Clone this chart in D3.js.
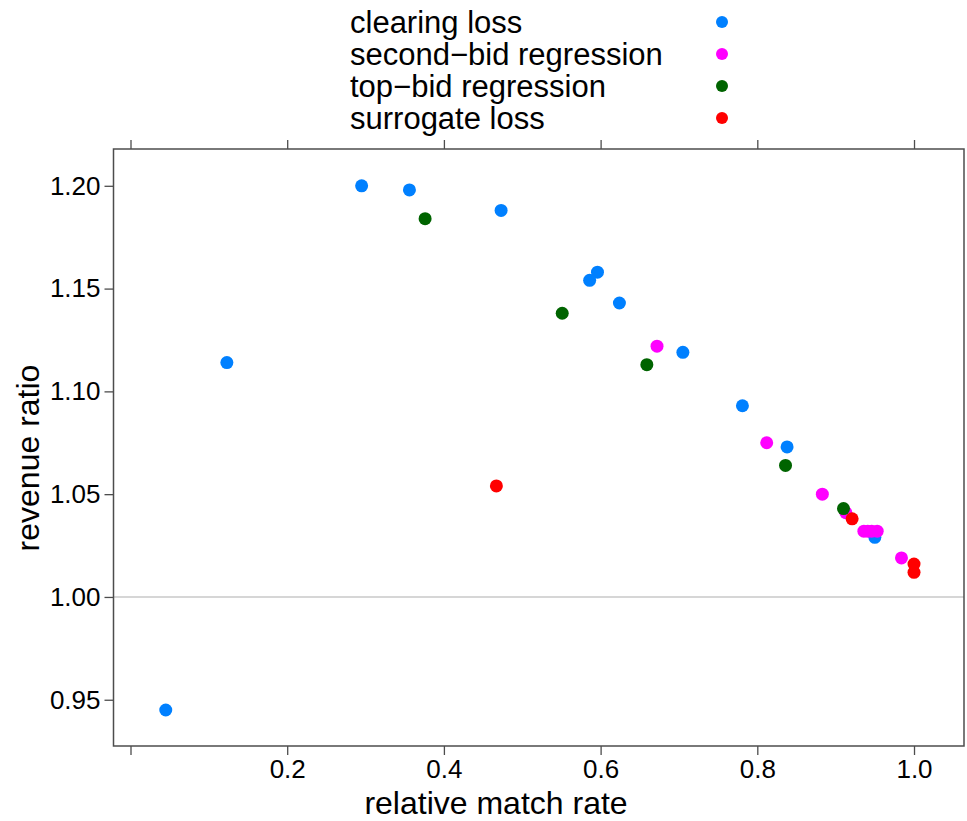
<!DOCTYPE html>
<html>
<head>
<meta charset="utf-8">
<script src="https://cdn.jsdelivr.net/npm/d3@7"></script>
<style>
  html, body { margin: 0; padding: 0; background: #ffffff; }
  svg { display: block; }
  text { font-family: "Liberation Sans", Arial, Helvetica, sans-serif; fill: #000; }
</style>
</head>
<body>
<svg id="chart" width="967" height="821"></svg>
<script>
// ---- data ----
const seriesNames = ["clearing loss", "second\u2212bid regression", "top\u2212bid regression", "surrogate loss"];
const seriesColors = ["#0080ff", "#ff00ff", "#006400", "#ff0000"];

const clearingX = [0.045, 0.123, 0.295, 0.356, 0.473, 0.586, 0.596, 0.624, 0.705, 0.781, 0.838, 0.950];
const clearingY = [0.945, 1.114, 1.200, 1.198, 1.188, 1.154, 1.158, 1.143, 1.119, 1.093, 1.073, 1.029];

const secondX = [0.672, 0.812, 0.883, 0.913, 0.936, 0.941, 0.946, 0.953, 0.984];
const secondY = [1.122, 1.075, 1.050, 1.041, 1.032, 1.032, 1.032, 1.032, 1.019];

const topX = [0.376, 0.551, 0.659, 0.836, 0.910];
const topY = [1.184, 1.138, 1.113, 1.064, 1.043];

const surrogateX = [0.467, 0.921, 1.000, 1.000];
const surrogateY = [1.054, 1.038, 1.016, 1.012];

const xTickValues = [0, 0.2, 0.4, 0.6, 0.8, 1.0];
const xTickLabels = ["", "0.2", "0.4", "0.6", "0.8", "1.0"];
const yTickValues = [0.95, 1.00, 1.05, 1.10, 1.15, 1.20];
const yTickLabels = ["0.95", "1.00", "1.05", "1.10", "1.15", "1.20"];
const refLine = 1.0;

const xTitle = "relative match rate";
const yTitle = "revenue ratio";

// ---- layout ----
const panel = { left: 113.5, right: 964, top: 149, bottom: 746 };
const svg = d3.select("#chart");

const x = d3.scaleLinear().domain([-0.0217, 1.0638]).range([panel.left, panel.right]);
const y = d3.scaleLinear().domain([0.9275, 1.2179]).range([panel.bottom, panel.top]);

const series = [
  { name: seriesNames[0], color: seriesColors[0], xs: clearingX, ys: clearingY },
  { name: seriesNames[1], color: seriesColors[1], xs: secondX, ys: secondY },
  { name: seriesNames[2], color: seriesColors[2], xs: topX, ys: topY },
  { name: seriesNames[3], color: seriesColors[3], xs: surrogateX, ys: surrogateY }
];

// reference line
svg.append("line")
  .attr("x1", panel.left).attr("x2", panel.right)
  .attr("y1", y(refLine)).attr("y2", y(refLine))
  .attr("stroke", "#c8c8c8").attr("stroke-width", 1.6);

// axes
const axisColor = "#4d4d4d";
const tickFont = 26;
function styleAxis(g, fontSize) {
  g.select(".domain").remove();
  g.selectAll(".tick line").attr("stroke", axisColor).attr("stroke-width", 1.3);
  g.selectAll(".tick text").style("font-size", fontSize + "px").attr("fill", "#000");
}

const xAxisB = d3.axisBottom(x).tickValues(xTickValues)
  .tickFormat((d, i) => xTickLabels[i]).tickSize(9).tickPadding(5);
svg.append("g").attr("transform", `translate(0,${panel.bottom})`).call(xAxisB)
  .call(g => styleAxis(g, tickFont));

const xAxisT = d3.axisTop(x).tickValues(xTickValues).tickFormat("").tickSize(9);
svg.append("g").attr("transform", `translate(0,${panel.top})`).call(xAxisT)
  .call(g => styleAxis(g, tickFont));

const yAxisL = d3.axisLeft(y).tickValues(yTickValues)
  .tickFormat((d, i) => yTickLabels[i]).tickSize(9).tickPadding(4);
svg.append("g").attr("transform", `translate(${panel.left},0)`).call(yAxisL)
  .call(g => styleAxis(g, tickFont));

// panel box
svg.append("rect")
  .attr("x", panel.left).attr("y", panel.top)
  .attr("width", panel.right - panel.left).attr("height", panel.bottom - panel.top)
  .attr("fill", "none").attr("stroke", axisColor).attr("stroke-width", 1.5);

// points
const pts = svg.append("g");
series.forEach(s => {
  pts.selectAll(null)
    .data(s.xs.map((v, i) => ({ x: v, y: s.ys[i] })))
    .enter().append("circle")
    .attr("cx", d => x(d.x)).attr("cy", d => y(d.y))
    .attr("r", 6.5).attr("fill", s.color);
});

// axis titles
const titleFont = 32;
svg.append("text")
  .attr("x", 496).attr("y", 814)
  .attr("text-anchor", "middle").style("font-size", titleFont + "px")
  .text(xTitle);

svg.append("text")
  .attr("transform", `translate(39,458) rotate(-90)`)
  .attr("text-anchor", "middle").style("font-size", titleFont + "px")
  .text(yTitle);

// legend
const legendFont = 31;
const legend = svg.append("g");
series.forEach((s, i) => {
  const cy = 22 + i * 32;
  legend.append("text")
    .attr("x", 350).attr("y", cy).attr("dy", "0.35em")
    .style("font-size", legendFont + "px").text(s.name);
  legend.append("circle")
    .attr("cx", 722).attr("cy", cy).attr("r", 6).attr("fill", s.color);
});
</script>
</body>
</html>
